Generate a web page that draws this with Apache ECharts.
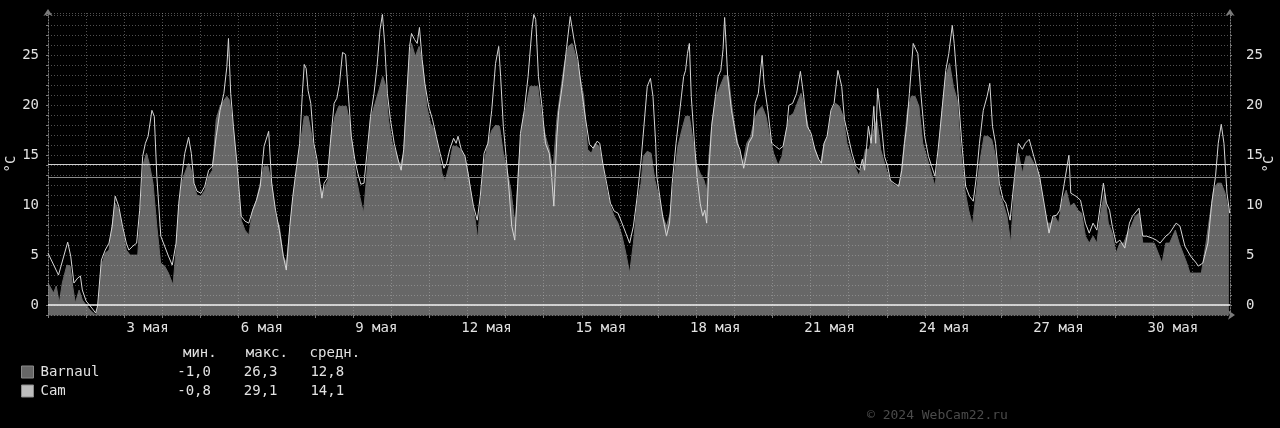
<!DOCTYPE html>
<html><head><meta charset="utf-8">
<script src="https://cdn.jsdelivr.net/npm/echarts@6/dist/echarts.min.js"></script>
<style>html,body{margin:0;padding:0;background:#000}#c{width:1280px;height:428px}</style>
</head><body><div id="c"></div>
<script>
// x categories: days of May
const days = ['1','2','3','4','5','6','7','8','9','10','11','12','13','14','15','16','17','18','19','20','21','22','23','24','25','26','27','28','29','30','31'];
const seriesNames = ['Barnaul', 'Cam'];
const statHeaders = ['мин.', 'макс.', 'средн.'];
const barnaulStats = ['-1,0', '26,3', '12,8'];
const camStats = ['-0,8', '29,1', '14,1'];
const barnaulAvg = 12.8;
const camAvg = 14.1;
const copyrightText = '© 2024 WebCam22.ru';

// readings: [hours since 1 May 00:00, °C]
const camReadings = [[0,5.2],[6.6,3.0],[12.4,6.3],[14.3,4.9],[16.3,2.2],[18.7,2.7],[20.4,2.9],[21.6,1.5],[24,0.4],[27.6,-0.3],[30,-0.8],[31.2,-0.1],[33.6,4.5],[36,5.5],[38.4,6.2],[40.4,7.9],[42.3,10.9],[44.5,9.9],[46.9,7.9],[49.3,6.2],[50.9,5.5],[53.4,5.9],[55.8,6.2],[57.7,9.5],[59.6,14.9],[61.3,16.2],[63,16.9],[65.4,19.5],[66.9,18.9],[68.5,12.9],[71,6.9],[73.4,5.9],[75.8,4.9],[78.2,4.0],[80.6,6.2],[82.3,10.2],[84.2,12.9],[86.1,15.2],[88.5,16.8],[90.2,15.2],[91.9,12.2],[93.8,11.4],[96.3,11.2],[98.7,11.9],[101.1,13.5],[103.5,13.9],[105.9,16.9],[108.3,19.5],[110.7,21.2],[112.6,23.9],[113.6,26.7],[115,21.2],[116.7,17.9],[119.1,13.9],[121.6,8.9],[124,8.4],[126.4,8.2],[128.8,9.5],[131.2,10.5],[133.6,11.9],[136,15.9],[138.9,17.4],[140.8,12.2],[143.2,9.5],[145.6,7.5],[148.1,4.9],[150,3.5],[152.2,7.9],[154.1,10.9],[156.5,13.9],[158.4,16.2],[160.1,21.2],[161.3,24.1],[162.5,23.7],[163.7,21.5],[165.4,20.2],[167.3,16.2],[169.3,14.6],[170.9,12.5],[172.4,10.7],[173.8,12.2],[175.8,12.7],[177.7,16.2],[180.1,20.2],[181.8,20.7],[183.5,22.2],[185.4,25.3],[187.3,25.1],[189,21.2],[190.9,16.9],[193.1,14.6],[195,13.2],[196.9,12.1],[198.9,12.2],[201,15.6],[203,18.9],[205.2,21.2],[207.1,23.9],[209,27.6],[210.5,29.1],[211.9,26.2],[213.6,21.2],[215.5,18.6],[217.9,16.2],[220.3,14.6],[222.3,13.5],[223.9,15.6],[225.9,21.2],[227.6,25.9],[228.8,27.2],[230.7,26.6],[232.4,26.2],[233.8,27.8],[235.5,24.6],[237.2,22.2],[239.6,19.9],[242,18.6],[244.4,16.9],[246.8,15.2],[249.2,13.7],[250.9,14.2],[252.9,15.6],[255.3,16.7],[256.9,16.2],[258.1,16.9],[260.1,15.6],[262.5,14.9],[264.4,13.2],[266.1,11.5],[267.8,9.9],[270.2,8.5],[272.1,10.9],[274.5,15.2],[276.9,16.2],[279.3,19.5],[281.7,24.2],[283.7,25.9],[284.9,22.9],[286.6,17.9],[288.5,14.6],[290.2,11.5],[291.9,7.9],[293.8,6.5],[295.7,12.2],[297.4,17.2],[299.8,19.5],[302.2,22.9],[304.6,27.6],[305.8,29.1],[307,28.6],[308.7,22.9],[310.7,20.2],[313.1,16.2],[315.5,15.2],[316.7,13.5],[318.4,9.9],[320.3,16.9],[321.5,19.5],[323.9,22.2],[326.3,25.6],[328.7,28.9],[331.1,26.6],[333.5,24.6],[335.9,21.5],[338.4,18.6],[340.8,16.1],[343.2,15.7],[345.6,16.4],[347.3,16.2],[349.2,14.2],[351.6,12.2],[354,10.2],[356.4,9.4],[358.8,9.2],[361.3,8.2],[363.7,7.2],[366.1,6.2],[368.5,7.9],[370.9,10.9],[373.3,14.5],[377.2,21.9],[379.2,22.7],[380.8,20.9],[382.5,16.2],[383.2,12.9],[384.5,11.5],[386.9,8.9],[389.3,6.9],[391.2,8.2],[392.9,12.2],[395.3,16.2],[397.7,19.5],[400.1,22.9],[401.3,23.5],[402.5,25.2],[403.7,26.2],[404.9,20.9],[406.6,16.9],[408.5,12.9],[410.5,10.2],[412.1,8.9],[413.4,9.5],[414.6,8.2],[415.8,12.9],[417.7,17.9],[420.1,20.9],[421.8,22.9],[423.5,23.5],[424.9,25.6],[425.9,28.8],[426.8,26.2],[427.8,22.9],[430.2,19.5],[433.8,16.2],[435.5,15.6],[437.9,13.7],[439.4,14.9],[441,16.2],[443.5,16.9],[445.1,20.2],[447.1,21.2],[448.3,21.4],[449.5,25.0],[450.7,22.2],[453.1,19.5],[455.5,16.2],[457.9,15.9],[460.3,15.6],[462.7,15.9],[465.1,17.9],[466.3,20.0],[468.7,20.2],[471.2,21.2],[473.6,23.4],[475.2,21.5],[477.9,17.9],[480.3,17.2],[482.7,15.6],[485.1,14.6],[486.8,14.2],[488.5,16.2],[490.4,16.9],[492.8,19.5],[494.8,20.2],[497.2,23.5],[499.6,21.9],[501.3,18.6],[503.7,16.9],[506.1,15.2],[508.5,13.9],[510.9,13.5],[512.6,14.6],[514,13.5],[516.4,17.9],[518.1,16.2],[519.8,19.9],[521,16.2],[522.2,21.7],[524.1,18.9],[526.5,14.9],[528.5,13.9],[530.2,12.5],[532.6,12.2],[535.5,11.9],[537.4,13.5],[539.1,16.2],[540.5,17.9],[542.2,21.2],[544.6,26.2],[546.3,25.6],[547.5,25.2],[549.4,21.2],[551.8,16.9],[554.2,14.9],[556.2,13.9],[558.3,12.9],[560.3,15.6],[562.7,19.5],[565.1,23.5],[567,25.2],[569.2,28.0],[570.4,26.2],[572.8,21.2],[575.2,16.2],[577.6,11.9],[580,10.9],[582.4,10.4],[584.4,12.9],[586.3,16.2],[588.7,19.5],[591.1,20.9],[592.8,22.2],[594.5,17.9],[596.4,16.2],[598.8,12.2],[601.2,10.6],[602.9,10.2],[605.6,8.5],[608.4,12.9],[610.8,16.2],[613.3,15.6],[615.2,16.2],[617.6,16.6],[620.5,14.9],[624.1,12.9],[627.7,9.5],[630.1,7.2],[632.5,8.9],[634.9,9.0],[636.9,9.5],[639.7,12.2],[642.6,15.0],[643.8,11.2],[647,10.9],[649.9,10.5],[653,8.2],[655.4,7.2],[657.8,8.2],[660.2,7.5],[662.6,10.2],[664.3,12.2],[666.2,10.2],[668.2,9.5],[669.9,7.9],[672.3,6.2],[674.7,6.5],[677.8,5.7],[680.7,8.2],[682.6,8.9],[686.7,9.7],[689.1,6.9],[691.5,6.9],[695.1,6.7],[697.6,6.5],[700,6.2],[703.6,6.9],[706,7.2],[710.1,8.2],[712.5,7.9],[715.6,5.9],[719.2,4.9],[722.8,4.2],[724,3.9],[726.9,4.2],[730.1,6.2],[732.5,10.2],[734.9,12.9],[736.6,16.2],[738.5,18.1],[740.2,16.2],[742.1,11.2],[743.8,9.2]];

const barnaulReadings = [[0,2.2],[3.5,1.2],[5.2,1.9],[7.1,0.2],[9,2.2],[11.9,4.0],[13.9,3.9],[15.5,1.9],[17.2,0.2],[19.6,1.5],[21.6,0.5],[24,0],[26.4,-0.5],[30,-1.0],[31.7,-0.1],[33.6,3.9],[36,5.2],[38.4,5.5],[40.8,8.5],[42.3,10.2],[44.5,9.5],[46.9,7.5],[49.3,5.5],[51.7,5.0],[56.5,5.0],[58.2,9.5],[60.1,14.2],[62,15.2],[63.7,14.2],[66.1,12.2],[68.5,7.9],[70.9,4.2],[73.4,3.9],[75.8,3.2],[78.7,2.0],[80.6,5.5],[82.3,9.5],[84.2,12.2],[86.1,13.2],[88.5,14.2],[90.2,13.5],[91.9,11.9],[93.8,11.0],[96.3,10.9],[98.7,11.5],[101.1,12.9],[103.5,13.5],[105.9,18.6],[108.3,19.9],[110.7,20.5],[112.6,20.9],[114.3,20.5],[116.7,17.5],[119.1,12.9],[121.6,8.5],[124,7.5],[126.4,7.0],[128.8,9.5],[131.2,10.5],[133.6,12.2],[136,13.9],[138.4,13.9],[140.8,12.2],[143.2,8.9],[145.6,7.9],[148.1,4.9],[150,4.2],[152.2,7.5],[154.1,10.5],[156.5,13.5],[158.9,16.2],[161.3,18.9],[163.7,18.9],[165.4,17.5],[167.3,15.6],[169.3,13.9],[170.9,12.2],[172.9,11.2],[174.5,11.9],[176.2,12.5],[178.2,16.9],[180.6,18.9],[183,19.9],[185.4,19.9],[187.8,19.9],[189.5,18.6],[191.4,16.2],[193.8,12.9],[196.2,10.9],[198.6,9.2],[200.6,12.9],[203,18.6],[205.9,20.2],[208.3,21.5],[210.7,22.9],[212.6,21.9],[214.3,18.6],[216.7,16.2],[219.1,15.2],[221.5,13.9],[223.9,15.2],[225.9,21.2],[227.6,24.9],[228.8,26.2],[231.2,24.9],[233.6,25.9],[236,23.9],[238.4,19.9],[240.8,18.2],[243.2,17.5],[245.6,15.6],[248,13.2],[249.9,12.4],[252.4,13.9],[254.8,15.9],[257.2,15.9],[259.6,15.6],[262,14.9],[264.4,13.2],[266.8,10.5],[269.2,8.2],[270.4,6.5],[272.1,9.9],[274.5,14.2],[276.9,16.2],[279.3,17.5],[281.7,18.0],[284.2,17.9],[286.6,15.2],[289,13.5],[291.4,11.5],[293.3,8.9],[294.3,8.5],[296.2,13.9],[298.6,18.2],[301,19.9],[303.4,21.9],[305.8,21.9],[308.3,21.9],[310.7,18.9],[313.1,16.9],[315.5,15.6],[317.9,13.5],[320.3,18.6],[322.7,21.5],[325.1,24.2],[327.5,25.9],[329.9,26.2],[332.3,24.9],[334.8,22.9],[337.2,20.9],[339.6,15.6],[342,15.2],[344.4,16.2],[346.8,15.9],[349.2,13.9],[351.6,11.5],[354,9.9],[356.4,8.9],[358.8,8.2],[361.3,6.9],[363.7,5.2],[366.1,3.2],[368.5,6.2],[370.9,10.2],[373.3,12.2],[374.8,14.9],[377.2,15.4],[379.6,15.2],[382,12.5],[384.5,10.9],[386.9,8.9],[389.3,7.9],[391.7,9.2],[394.1,12.9],[396.5,15.9],[398.9,17.5],[401.3,18.9],[403.7,18.9],[405.6,16.9],[408.1,14.2],[410.5,13.2],[412.9,12.5],[414.6,11.5],[416.2,15.2],[418.2,18.6],[420.6,20.9],[423,21.9],[425.9,23.0],[428.3,22.9],[430.2,20.2],[432.6,17.5],[435,15.6],[437.4,14.2],[439.8,16.2],[442.3,16.9],[444.7,18.6],[447.1,19.5],[449.5,19.9],[451.9,18.9],[454.3,16.9],[456.7,15.2],[459.6,14.0],[462,14.9],[464.4,17.2],[466.8,18.9],[469.2,19.2],[471.6,20.2],[474,21.2],[476.5,19.5],[478.9,17.5],[481.3,16.2],[483.7,15.2],[486.1,14.0],[488.5,16.2],[490.9,16.9],[493.3,19.5],[495.7,20.2],[498.1,19.9],[500.5,18.9],[502.9,16.2],[505.4,14.9],[507.8,13.9],[510.2,13.0],[512.6,13.9],[514.5,15.6],[516.9,15.6],[519.3,17.2],[521.7,18.6],[524.1,15.6],[526.5,14.2],[529,12.9],[531.4,12.2],[533.8,11.9],[536.2,12.2],[538.6,15.6],[541,19.5],[543.4,20.9],[545.8,20.9],[548.2,19.9],[550.6,16.2],[553,14.9],[555.5,13.5],[558.3,11.9],[560.3,14.6],[562.7,19.5],[565.1,22.9],[567.5,24.2],[569.9,21.9],[572.3,20.5],[574.7,15.2],[577.1,11.5],[579.5,9.5],[581.9,8.0],[584.4,11.5],[586.8,14.6],[589.2,16.9],[591.6,16.9],[594,16.6],[596.4,14.9],[598.8,11.2],[601.2,10.2],[603.6,8.9],[606,6.2],[608.4,12.2],[610.8,15.2],[613.3,13.2],[615.7,14.9],[618.1,14.9],[620.5,14.2],[624.1,12.9],[626.5,10.2],[628.9,8.2],[631.3,8.2],[633.7,8.9],[636.1,8.2],[638.5,10.5],[640.9,11.5],[643.4,9.9],[645.8,10.2],[648.2,9.5],[650.6,9.2],[653,6.9],[655.4,6.2],[657.8,6.9],[660.2,6.2],[662.6,9.2],[665,11.2],[667.4,8.2],[669.9,7.2],[672.3,5.2],[674.7,6.2],[677.1,6.2],[679.5,7.2],[681.9,7.9],[684.3,8.9],[686.7,9.2],[689.1,6.2],[692.7,6.2],[696.3,6.2],[698.8,5.2],[701.2,4.2],[703.6,6.2],[706,6.2],[709.6,7.5],[712,6.2],[714.4,5.2],[716.8,4.2],[718.8,3.2],[722.8,3.2],[726,3.2],[728.9,6.2],[731.3,8.9],[733.7,11.5],[736.1,12.2],[738.5,12.2],[740.9,11.2],[743.3,9.2]];

const FONT = 'DejaVu Sans Mono';
const TEXT = '#e2e2e2';
const AXIS = '#7a7a7a';
const GRIDC = 'rgba(190,190,190,0.42)';
const statsByName = { Barnaul: barnaulStats, Cam: camStats };

const chart = echarts.init(document.getElementById('c'), null, { renderer: 'canvas' });

function yAxisBase(pos) {
  const left = pos === 'left';
  return {
    type: 'value', position: pos, min: -1, max: 29.25, interval: 1, z: 1.5,
    name: '°C', nameLocation: 'middle', nameGap: left ? 30 : 32, nameRotate: 90, nameMoveOverlap: false,
    nameTextStyle: { color: TEXT, fontFamily: FONT, fontSize: 14 },
    axisLine: { show: true, onZero: false, symbol: ['none', 'arrow'], symbolSize: [7, 7], symbolOffset: [0, 4],
      lineStyle: { color: AXIS, type: [1, 2] } },
    axisTick: { show: true, length: 2, lineStyle: { color: AXIS } },
    axisLabel: { color: TEXT, fontFamily: FONT, fontSize: 14, margin: left ? 9 : 16,
      formatter: v => (Math.abs(v % 5) < 1e-9 ? String(v) : '') },
    splitLine: { show: left, lineStyle: { color: GRIDC, type: [1, 2], width: 1 } }
  };
}

const richBase = { color: TEXT, fontFamily: FONT, fontSize: 14, lineHeight: 16, fontWeight: 'normal' };

const option = {
  backgroundColor: '#000',
  animation: false,
  grid: { left: 48, right: 50, top: 13, bottom: 113, outerBoundsMode: 'none' },
  xAxis: [
    { type: 'value', min: 0, max: 744, position: 'top', show: false },
    { type: 'category', data: days, boundaryGap: true, position: 'bottom', z: 1.5,
      axisLine: { show: true, onZero: false, symbol: ['none', 'arrow'], symbolSize: [7, 7], symbolOffset: [0, 5],
        lineStyle: { color: AXIS, type: [1, 2] } },
      axisTick: { show: true, interval: 0, length: 3, lineStyle: { color: AXIS } },
      axisLabel: { interval: i => (i + 1) % 3 === 0, color: TEXT, fontFamily: FONT, fontSize: 14, margin: 6,
        formatter: v => (v.length < 2 ? ' ' : '') + v + ' мая' },
      splitLine: { show: true, interval: 0, lineStyle: { color: GRIDC, type: [1, 2], width: 1 } }
    }
  ],
  yAxis: [yAxisBase('left'), yAxisBase('right')],
  title: [
    { text: `{a|${statHeaders[0]}}{b|${statHeaders[1]}}{c|${statHeaders[2]}}`, left: 183, top: 345, padding: 0,
      textStyle: { fontWeight: 'normal', rich: {
        a: Object.assign({ width: 62.8 }, richBase),
        b: Object.assign({ width: 63.8 }, richBase),
        c: Object.assign({}, richBase) } } },
    { text: copyrightText, left: 867, top: 409, padding: 0,
      textStyle: { color: '#4b4b4b', fontFamily: FONT, fontSize: 13, fontWeight: 'normal' } }
  ],
  legend: {
    orient: 'vertical', left: 21, top: 364, padding: 0, itemWidth: 12, itemHeight: 12, itemGap: 3,
    icon: 'rect', selectedMode: false,
    data: [
      { name: seriesNames[0], itemStyle: { color: '#666', borderColor: '#8a8a8a', borderWidth: 1 } },
      { name: seriesNames[1], itemStyle: { color: '#bdbdbd', borderColor: '#8a8a8a', borderWidth: 1 } }
    ],
    formatter: name => {
      const s = statsByName[name];
      return `{n|${name}}{v|${s[0]}}{v|${s[1]}}{w|${s[2]}}`;
    },
    textStyle: { color: TEXT, fontFamily: FONT, fontSize: 14, lineHeight: 16,
      rich: {
        n: Object.assign({ width: 136.7, padding: [0, 0, 0, 2] }, richBase),
        v: Object.assign({ width: 66.6 }, richBase),
        w: Object.assign({}, richBase) } }
  },
  series: [
    { name: seriesNames[0], type: 'line', xAxisIndex: 0, yAxisIndex: 0, data: barnaulReadings,
      symbol: 'none', showSymbol: false, silent: true, z: 1,
      itemStyle: { color: '#676767' }, lineStyle: { color: '#676767', width: 1 },
      areaStyle: { color: '#676767', opacity: 1, origin: 'start' } },
    { name: seriesNames[1], type: 'line', xAxisIndex: 0, yAxisIndex: 0, data: camReadings,
      symbol: 'none', showSymbol: false, silent: true, z: 3,
      itemStyle: { color: '#bdbdbd' }, lineStyle: { color: '#d6d6d6', width: 1 },
      markLine: { silent: true, symbol: 'none', animation: false, label: { show: false },
        data: [
          { yAxis: 0, lineStyle: { color: '#f2f2f2', width: 1.5, type: 'solid' } },
          { yAxis: camAvg, lineStyle: { color: '#cfcfcf', width: 1, type: 'solid' } },
          { yAxis: barnaulAvg, lineStyle: { color: '#8c8c8c', width: 1, type: 'solid' } }
        ] } }
  ]
};
chart.setOption(option);
</script>
</body></html>
